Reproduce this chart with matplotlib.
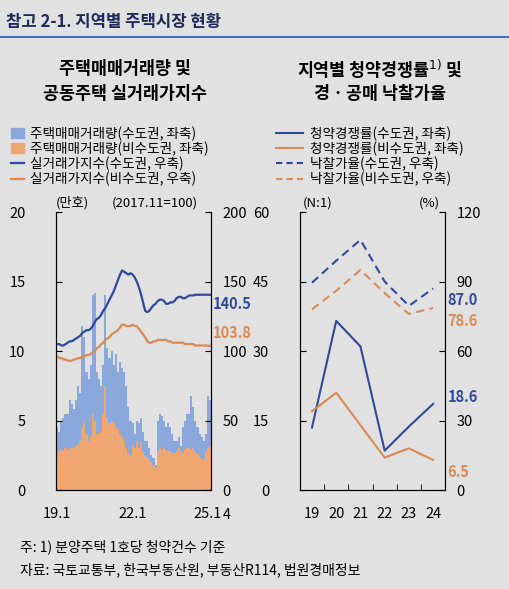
import numpy as np
import matplotlib.pyplot as plt
from matplotlib.patches import Patch
from matplotlib.lines import Line2D

plt.rcParams['font.family'] = ['Noto Sans CJK KR', 'DejaVu Sans']

# 주택매매거래량 (만호), 2019.1 ~ 2025.2, 합계(수도권+비수도권) 및 비수도권
total = [4.5, 4.2, 5.0, 5.2, 5.5, 5.5, 6.5, 6.2, 5.8, 6.5, 7.5, 7.0,
         11.8, 11.0, 8.5, 8.0, 9.0, 14.0, 14.2, 8.5, 8.0, 7.5, 9.0, 14.0,
         10.2, 9.5, 10.0, 9.0, 9.8, 8.5, 9.2, 8.8, 8.5, 7.5, 6.0, 5.0,
         4.8, 4.0, 5.0, 4.8, 5.2, 4.2, 3.5, 3.5, 3.0, 2.5, 2.3, 1.8,
         5.0, 5.5, 5.3, 5.0, 4.5, 4.8, 4.5, 4.0, 3.5, 3.5, 3.8, 3.2,
         4.5, 5.0, 5.5, 5.5, 6.8, 6.0, 5.0, 4.5, 4.0, 3.8, 3.5, 4.0,
         6.8, 6.5]
nonmetro = [2.5, 2.8, 2.9, 2.8, 3.0, 2.9, 3.0, 3.1, 3.0, 3.2, 3.3, 3.5,
            4.5, 4.8, 4.0, 3.5, 3.8, 5.5, 5.0, 4.0, 4.0, 4.2, 5.5, 7.5,
            5.2, 4.8, 5.0, 4.8, 4.5, 4.3, 4.0, 3.8, 3.5, 3.0, 2.7, 2.5,
            3.2, 3.0, 3.5, 3.0, 3.5, 2.8, 2.5, 2.4, 2.2, 2.0, 1.8, 1.6,
            2.8, 3.0, 2.9, 3.0, 2.9, 2.8, 2.8, 2.7, 2.7, 2.8, 3.0, 2.8,
            2.7, 2.9, 3.0, 3.0, 2.9, 3.0, 2.8, 2.6, 2.4, 2.2, 2.2, 2.8,
            3.0, 3.2]
# 실거래가지수 (2017.11=100)
idx_metro = [105, 105, 104, 104, 105, 106, 107, 107, 108, 109, 110, 111,
             113, 114, 115, 115, 116, 118, 121, 123, 124, 126, 129, 131,
             134, 137, 140, 143, 147, 151, 155, 158, 157, 156, 155, 156,
             155, 153, 150, 146, 141, 135, 129, 128, 129, 131, 133, 134,
             136, 137, 137, 136, 134, 134, 135, 135, 136, 138, 139, 139,
             138, 138, 139, 140, 140, 140, 140.5, 140.5, 140.5, 140.5, 140.5, 140.5,
             140.5, 140.5]
idx_nonmetro = [96, 95, 95, 94, 94, 93, 93, 93, 94, 94, 95, 95,
                96, 96, 97, 97, 98, 99, 100, 102, 103, 105, 106, 108,
                109, 110, 112, 113, 114, 115, 117, 119, 119, 118, 118, 118,
                119, 118, 118, 116, 114, 112, 110, 107, 106, 106, 107, 107,
                108, 108, 108, 108, 108, 107, 107, 106, 106, 106, 106, 106,
                106, 105, 105, 105, 105, 105, 104, 104, 104, 104, 104, 104,
                103.8, 103.8]

years = ['19', '20', '21', '22', '23', '24']
comp_metro = [13.5, 36.5, 31.0, 8.5, 13.7, 18.6]
comp_nonmetro = [17.0, 21.0, 14.0, 7.0, 9.0, 6.5]
bid_metro = [89.5, 99.0, 108.0, 90.0, 79.5, 87.0]
bid_nonmetro = [78.0, 86.0, 95.0, 85.0, 76.0, 78.6]

BG = '#e1e1e1'
BLUE = '#2e4a9a'
ORANGE = '#d98a55'
BAR_BLUE = '#8aa8dc'
BAR_OR = '#f0a670'

fig = plt.figure(figsize=(5.1, 5.89), dpi=100, facecolor=BG)

fig.text(0.012, 0.962, '참고 2-1. 지역별 주택시장 현황', fontsize=12, fontweight='bold',
         color='#1e2a5a', va='center')
fig.add_artist(plt.Line2D([0.0, 1.0], [0.937, 0.937], color='#3f6fc0', lw=1.5))

fig.text(0.245, 0.883, '주택매매거래량 및', fontsize=12.5, fontweight='bold', ha='center', va='center')
fig.text(0.245, 0.840, '공동주택 실거래가지수', fontsize=12.5, fontweight='bold', ha='center', va='center')
fig.text(0.745, 0.883, '지역별 청약경쟁률$^{1)}$ 및', fontsize=12.5, fontweight='bold', ha='center', va='center')
fig.text(0.745, 0.840, '경ㆍ공매 낙찰가율', fontsize=12.5, fontweight='bold', ha='center', va='center')

# ---- 왼쪽 차트
ax = fig.add_axes([0.110, 0.168, 0.304, 0.472], facecolor=BG)
x = np.arange(len(total))
metro = np.array(total) - np.array(nonmetro)
ax.bar(x, nonmetro, width=1.0, color=BAR_OR)
ax.bar(x, metro, bottom=nonmetro, width=1.0, color=BAR_BLUE)
ax.set_ylim(0, 20)
ax.set_xlim(-0.5, len(total) - 0.5)
ax.set_yticks([0, 5, 10, 15, 20])
ax.set_xticks([0, 36, 72])
ax.set_xticklabels(['19.1', '22.1', '25.1'])
ax2 = ax.twinx()
ax2.plot(x, idx_metro, color=BLUE, lw=1.6)
ax2.plot(x, idx_nonmetro, color=ORANGE, lw=1.6)
ax2.set_ylim(0, 200)
ax2.set_yticks([0, 50, 100, 150, 200])
for a in (ax, ax2):
    a.spines['top'].set_visible(False)
    a.tick_params(labelsize=10.5, direction='in', length=4, pad=8)
ax.tick_params(axis='y', pad=22)
ax.tick_params(axis='x', length=0, pad=12)
ax2.text(len(total) + 0.5, 134, '140.5', color=BLUE, fontsize=10.5, fontweight='bold', va='center', ha='left')
ax2.text(len(total) + 0.5, 113, '103.8', color=ORANGE, fontsize=10.5, fontweight='bold', va='center', ha='left')
fig.text(0.11, 0.655, '(만호)', fontsize=9.5, va='center')
fig.text(0.22, 0.655, '(2017.11=100)', fontsize=9.5, va='center')
fig.text(0.436, 0.126, '4', fontsize=10.5, va='center')

# ---- 오른쪽 차트
bx = fig.add_axes([0.588, 0.168, 0.285, 0.472], facecolor=BG)
xr = np.arange(len(years))
bx.plot(xr, comp_metro, color=BLUE, lw=1.5)
bx.plot(xr, comp_nonmetro, color=ORANGE, lw=1.5)
bx.set_ylim(0, 60)
bx.set_xlim(-0.5, len(years) - 0.5)
bx.set_yticks([0, 15, 30, 45, 60])
bx.set_xticks(xr)
bx.set_xticklabels(years)
bx.set_xticks(np.arange(-0.5, len(years)), minor=True)
bx2 = bx.twinx()
bx2.plot(xr, bid_metro, color=BLUE, lw=1.5, ls=(0, (4, 2.5)))
bx2.plot(xr, bid_nonmetro, color=ORANGE, lw=1.5, ls=(0, (4, 2.5)))
bx2.set_ylim(0, 120)
bx2.set_yticks([0, 30, 60, 90, 120])
for a in (bx, bx2):
    a.spines['top'].set_visible(False)
    a.tick_params(labelsize=10.5, direction='in', length=4, pad=8)
bx.tick_params(axis='y', pad=22)
bx.tick_params(axis='x', which='major', length=0, pad=12)
bx.tick_params(axis='x', which='minor', direction='in', length=4)
bx.text(5.6, 20.0, '18.6', color=BLUE, fontsize=10.5, fontweight='bold', va='center')
bx.text(5.6, 4.0, '6.5', color=ORANGE, fontsize=10.5, fontweight='bold', va='center')
bx2.text(5.6, 82, '87.0', color=BLUE, fontsize=10.5, fontweight='bold', va='center')
bx2.text(5.6, 73, '78.6', color=ORANGE, fontsize=10.5, fontweight='bold', va='center')
fig.text(0.593, 0.655, '(N:1)', fontsize=9.5, va='center')
fig.text(0.822, 0.655, '(%)', fontsize=9.5, va='center')

# 범례
h1 = [Patch(color=BAR_BLUE), Patch(color=BAR_OR), Line2D([], [], color=BLUE, lw=1.6), Line2D([], [], color=ORANGE, lw=1.6)]
l1 = ['주택매매거래량(수도권, 좌축)', '주택매매거래량(비수도권, 좌축)', '실거래가지수(수도권, 우축)', '실거래가지수(비수도권, 우축)']
fig.legend(h1, l1, loc='upper left', bbox_to_anchor=(0.01, 0.795), frameon=False, fontsize=9.8,
           handlelength=1.0, handletextpad=0.4, labelspacing=0.05, borderaxespad=0)
h2 = [Line2D([], [], color=BLUE, lw=1.5), Line2D([], [], color=ORANGE, lw=1.5),
      Line2D([], [], color=BLUE, lw=1.5, ls=(0, (3, 2))), Line2D([], [], color=ORANGE, lw=1.5, ls=(0, (3, 2)))]
l2 = ['청약경쟁률(수도권, 좌축)', '청약경쟁률(비수도권, 좌축)', '낙찰가율(수도권, 우축)', '낙찰가율(비수도권, 우축)']
fig.legend(h2, l2, loc='upper left', bbox_to_anchor=(0.53, 0.795), frameon=False, fontsize=9.8,
           handlelength=2.0, handletextpad=0.5, labelspacing=0.05, borderaxespad=0)

fig.text(0.04, 0.072, '주: 1) 분양주택 1호당 청약건수 기준', fontsize=10, va='center')
fig.text(0.04, 0.033, '자료: 국토교통부, 한국부동산원, 부동산R114, 법원경매정보', fontsize=10, va='center')

fig.savefig('out.png', dpi=100, facecolor=BG)
